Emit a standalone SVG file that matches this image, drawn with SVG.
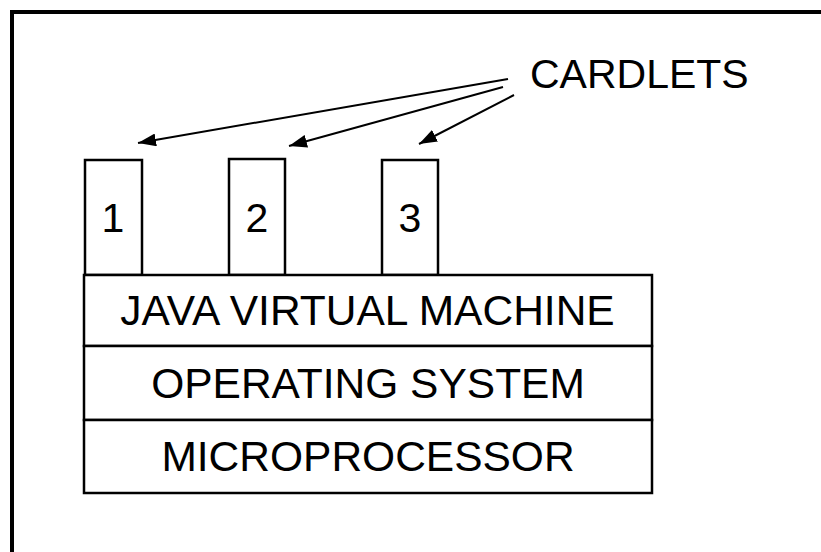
<svg xmlns="http://www.w3.org/2000/svg" width="821" height="552" viewBox="0 0 821 552">
<style>
.box{fill:#fff;stroke:#000;stroke-width:2.5}
.t{font-family:"Liberation Sans",Arial,sans-serif;font-size:42.5px;fill:#000}
.s{font-size:41px}
.c{text-anchor:middle}
.conn{stroke:#000;stroke-width:2;fill:none}
</style>
<defs>
<marker id="ah" markerUnits="userSpaceOnUse" markerWidth="19" markerHeight="13" refX="18" refY="6.5" orient="auto">
<path d="M0,0 L18,6.5 L0,13 Z" fill="#000"/>
</marker>
</defs>
<rect width="821" height="552" fill="#fff"/>
<path d="M12,552 V12 H821" fill="none" stroke="#000" stroke-width="4"/>
<g id="cardlet1"><rect class="box" x="85" y="160" width="57" height="115"/><text class="t s c" x="113" y="232">1</text></g>
<g id="cardlet2"><rect class="box" x="229" y="159" width="56" height="116"/><text class="t s c" x="257" y="232">2</text></g>
<g id="cardlet3"><rect class="box" x="382" y="160" width="56" height="115"/><text class="t s c" x="410" y="232">3</text></g>
<g id="jvm"><rect class="box" x="84" y="275" width="568" height="71"/><text class="t c" x="367.5" y="325">JAVA VIRTUAL MACHINE</text></g>
<g id="os"><rect class="box" x="84" y="346" width="568" height="74"/><text class="t c" x="368" y="398">OPERATING SYSTEM</text></g>
<g id="mp"><rect class="box" x="84" y="420" width="568" height="73"/><text class="t c" x="368" y="471">MICROPROCESSOR</text></g>
<g id="label"><text class="t s" x="530" y="88">CARDLETS</text></g>
<g id="connectors">
<line class="conn" x1="508" y1="79" x2="138" y2="143" marker-end="url(#ah)"/>
<line class="conn" x1="503" y1="87" x2="289" y2="146" marker-end="url(#ah)"/>
<line class="conn" x1="514" y1="95" x2="419" y2="144" marker-end="url(#ah)"/>
</g>
</svg>
